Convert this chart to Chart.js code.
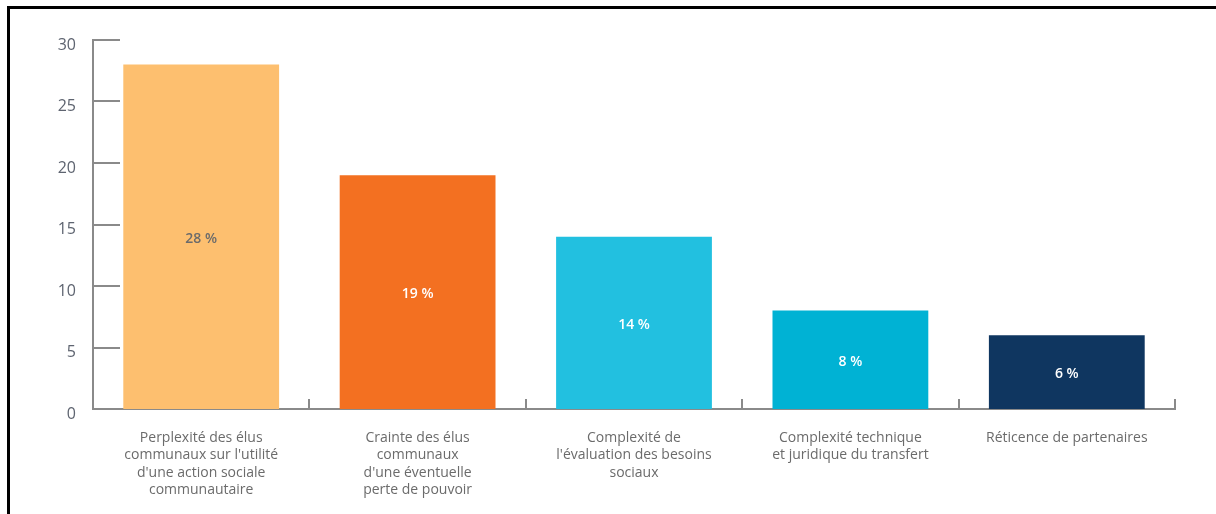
<!DOCTYPE html>
<html>
<head>
<meta charset="utf-8">
<script src="https://cdn.jsdelivr.net/npm/chart.js@4/dist/chart.umd.min.js"></script>
<style>
  html, body { margin: 0; padding: 0; background: #fff; }
  #wrap { position: relative; width: 1216px; height: 514px; }
  #frame { position: absolute; left: 7px; top: 6px; right: 0; bottom: 0;
    border-top: 3px solid #000; border-left: 3px solid #000; }
  canvas { position: absolute; left: 0; top: 0; }
</style>
</head>
<body>
<div id="wrap">
  <div id="frame"></div>
  <canvas id="canBarriers" width="1216" height="514"></canvas>
</div>
<script>
const categories = [
  ['Perplexité des élus', "communaux sur l'utilité", "d'une action sociale", 'communautaire'],
  ['Crainte des élus', 'communaux', "d'une éventuelle", 'perte de pouvoir'],
  ['Complexité de', "l'évaluation des besoins", 'sociaux'],
  ['Complexité technique', 'et juridique du transfert'],
  ['Réticence de partenaires']
]
const values = [28, 19, 14, 8, 6]
const valueLabels = ['28 %', '19 %', '14 %', '8 %', '6 %']
const barColors = ['#fdbf6f', '#f37021', '#22c0e0', '#00b2d4', '#0f3660']
const labelColors = ['#6b6b6b', '#ffffff', '#ffffff', '#ffffff', '#ffffff']
const yTicks = [0, 5, 10, 15, 20, 25, 30]

const axisGrey = '#8a8a8a'

// short inward ticks on the y axis and upward ticks at category boundaries
const axisTicks = {
  id: 'axisTicks',
  afterDatasetsDraw (chart) {
    const ctx = chart.ctx
    const x = chart.scales.x
    const y = chart.scales.y
    ctx.save()
    ctx.strokeStyle = axisGrey
    ctx.lineWidth = 2
    ctx.beginPath()
    yTicks.forEach(v => {
      if (v === 0) return
      const py = Math.round(y.getPixelForValue(v))
      ctx.moveTo(x.left, py)
      ctx.lineTo(x.left + 27, py)
    })
    const n = categories.length
    for (let i = 1; i <= n; i++) {
      const px = Math.round(x.left + (x.right - x.left) * i / n)
      ctx.moveTo(px, y.bottom)
      ctx.lineTo(px, y.bottom - 10)
    }
    ctx.stroke()
    ctx.restore()
  }
}

const barLabels = {
  id: 'barLabels',
  afterDatasetsDraw (chart) {
    const ctx = chart.ctx
    const meta = chart.getDatasetMeta(0)
    ctx.save()
    ctx.font = '600 14px "Open Sans"'
    ctx.textAlign = 'center'
    ctx.textBaseline = 'middle'
    meta.data.forEach((bar, i) => {
      ctx.fillStyle = labelColors[i]
      ctx.fillText(valueLabels[i], bar.x, (bar.y + bar.base) / 2 + 2)
    })
    ctx.restore()
  }
}

new Chart(document.getElementById('canBarriers'), {
  type: 'bar',
  data: {
    labels: categories,
    datasets: [
      {
        data: values,
        backgroundColor: barColors,
        categoryPercentage: 0.72,
        barPercentage: 1
      }
    ]
  },
  options: {
    responsive: false,
    animation: false,
    layout: { padding: { top: 40, right: 41, left: 0, bottom: 0 } },
    plugins: {
      legend: { display: false },
      tooltip: { enabled: false }
    },
    scales: {
      x: {
        afterFit (scale) { scale.height = 105 },
        grid: { display: false, drawTicks: false },
        border: { color: axisGrey, width: 2 },
        ticks: {
          padding: 20,
          color: '#6b6b6b',
          font: { family: 'Open Sans', size: 14, lineHeight: 1.25 },
          maxRotation: 0,
          autoSkip: false
        }
      },
      y: {
        min: 0,
        max: 30,
        afterFit (scale) { scale.width = 93 },
        afterBuildTicks (scale) { scale.ticks = yTicks.map(v => ({ value: v })) },
        grid: { display: false, drawTicks: false },
        border: { color: axisGrey, width: 2 },
        ticks: {
          padding: 17,
          labelOffset: 5,
          color: '#5e6470',
          font: { family: 'Open Sans', size: 16 }
        }
      }
    }
  },
  plugins: [axisTicks, barLabels]
})
</script>
</body>
</html>
